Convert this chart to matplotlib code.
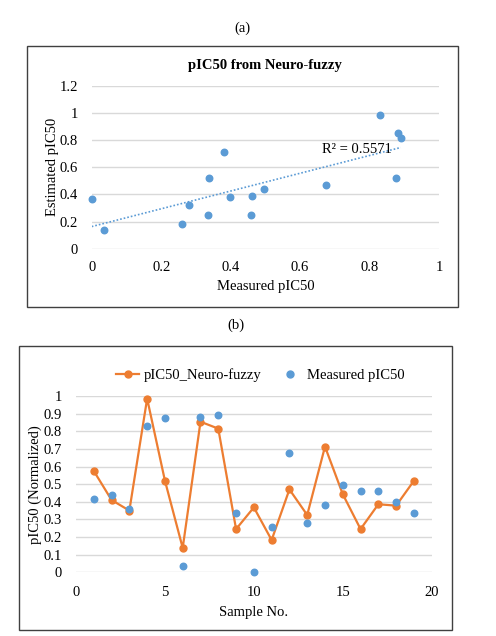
import matplotlib
matplotlib.use("Agg")
import matplotlib.pyplot as plt
from matplotlib.patches import Rectangle
from matplotlib.lines import Line2D
import numpy as np

plt.rcParams["font.family"] = ["Liberation Serif", "DejaVu Serif"]

# sample numbers and values
samples = list(range(1, 20))
neuro_fuzzy = [0.575, 0.41, 0.35, 0.985, 0.52, 0.138, 0.854, 0.815, 0.245, 0.368,
               0.183, 0.47, 0.325, 0.713, 0.443, 0.245, 0.386, 0.378, 0.519]
measured = [0.418, 0.44, 0.36, 0.829, 0.876, 0.036, 0.881, 0.89, 0.334, 0.0,
            0.259, 0.675, 0.28, 0.381, 0.495, 0.459, 0.461, 0.398, 0.339]
# panel (a) uses samples 4..19
scatter_from = 3
r2_text = "R² = 0.5571"

blue = "#5B9BD5"
orange = "#ED7D31"
grid_c = "#D9D9D9"

W, H = 496, 636
fig = plt.figure(figsize=(W / 100, H / 100), dpi=100)

def fx(px):
    return px / W

def fy(py):
    return 1 - py / H

# panel frames
fig.patches.append(Rectangle((fx(27), fy(306.7)), fx(430.7), 261 / H,
                             transform=fig.transFigure, fill=False,
                             edgecolor="#404040", lw=1.0))
fig.patches.append(Rectangle((fx(19), fy(630)), fx(433), 284 / H,
                             transform=fig.transFigure, fill=False,
                             edgecolor="#404040", lw=1.0))
fig.text(fx(242), fy(28), "(a)", ha="center", va="center", fontsize=10.5)
fig.text(fx(236), fy(325), "(b)", ha="center", va="center", fontsize=10.5)


def style(ax):
    for s in ax.spines.values():
        s.set_visible(False)
    ax.tick_params(length=0, labelsize=10.5, colors="black")
    ax.yaxis.grid(True, color=grid_c, lw=1.0)
    ax.set_axisbelow(True)


# ---- (a) scatter
ax1 = fig.add_axes([fx(91.7), fy(248.7), fx(439 - 91.7), (248.7 - 86) / H])
style(ax1)
xs = np.array(measured[scatter_from:])
ys = np.array(neuro_fuzzy[scatter_from:])
ax1.scatter(xs, ys, s=22, color=blue, zorder=3, clip_on=False)
k, b = np.polyfit(xs, ys, 1)
tx = np.array([0, xs.max()])
ax1.plot(tx, k * tx + b, ls=(0, (1, 1.2)), color=blue, lw=1.2)
ax1.text(0.662, 0.735, r2_text, ha="left", va="center", fontsize=10.5)
ax1.set_xlim(0, 1)
ax1.set_ylim(0, 1.2)
ax1.set_xticks(np.arange(0, 1.01, 0.2))
ax1.set_xticklabels(["0", "0.2", "0.4", "0.6", "0.8", "1"])
ax1.set_yticks(np.arange(0, 1.21, 0.2))
ax1.set_yticklabels(["0", "0.2", "0.4", "0.6", "0.8", "1", "1.2"])
ax1.tick_params(axis="x", pad=9)
ax1.tick_params(axis="y", pad=10)
ax1.set_xlabel("Measured pIC50", fontsize=10.5, labelpad=4)
ax1.set_ylabel("Estimated pIC50", fontsize=10.5, labelpad=0)
ax1.set_title("pIC50 from Neuro-fuzzy", fontsize=10.5, fontweight="bold", pad=12)

# ---- (b) line + scatter
ax2 = fig.add_axes([fx(76), fy(572.3), fx(431.7 - 76), (572.3 - 396) / H])
style(ax2)
ax2.plot(samples, neuro_fuzzy, color=orange, lw=1.6, marker="o", ms=5,
         zorder=3, clip_on=False)
ax2.scatter(samples, measured, s=22, color=blue, zorder=4, clip_on=False)
ax2.set_xlim(0, 20)
ax2.set_ylim(0, 1)
ax2.set_xticks([0, 5, 10, 15, 20])
ax2.set_yticks(np.arange(0, 1.01, 0.1))
ax2.set_yticklabels(["0", "0.1", "0.2", "0.3", "0.4", "0.5", "0.6", "0.7",
                     "0.8", "0.9", "1"])
ax2.tick_params(axis="x", pad=10)
ax2.tick_params(axis="y", pad=10)
ax2.set_xlabel("Sample No.", fontsize=10.5, labelpad=5)
ax2.set_ylabel("pIC50 (Normalized)", fontsize=10.5, labelpad=1)

handles = [Line2D([], [], color=orange, lw=1.6, marker="o", ms=5),
           Line2D([], [], color=blue, lw=0, marker="o", ms=5)]
fig.legend(handles, ["pIC50_Neuro-fuzzy", "Measured pIC50"], loc="center",
           bbox_to_anchor=(fx(260), fy(375)), ncol=2, frameon=False,
           fontsize=10.5, handlelength=1.6, handletextpad=0.3,
           columnspacing=1.2)

fig.savefig("out.png", dpi=100)
